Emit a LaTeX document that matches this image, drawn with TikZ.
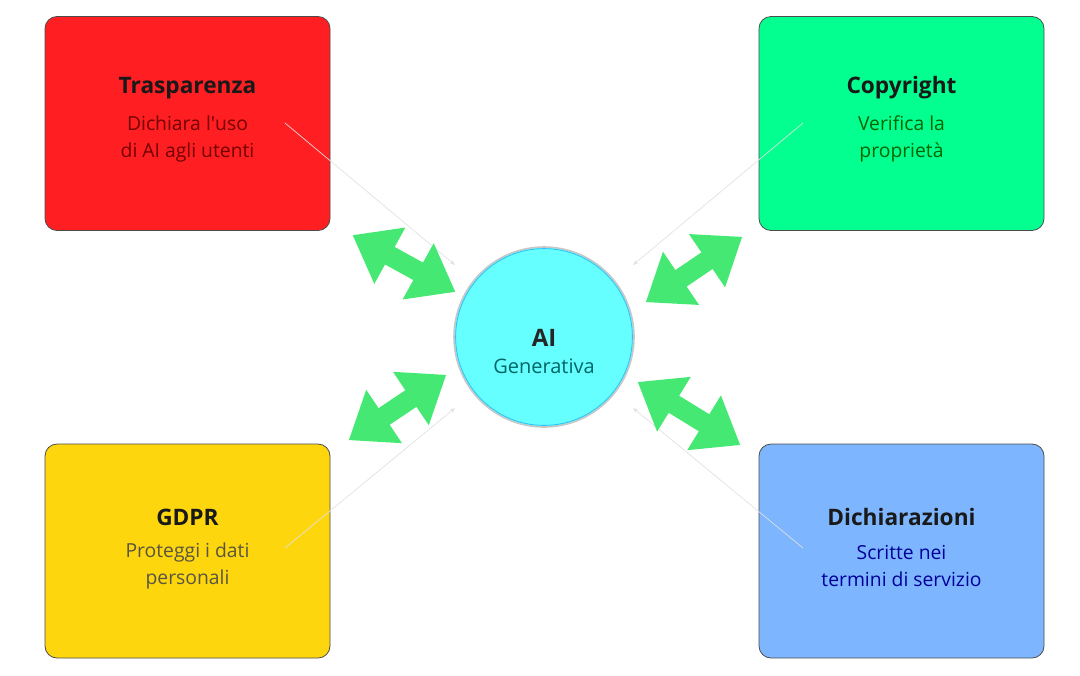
\documentclass[tikz,border=0pt]{standalone}
\usepackage{fontspec}
\setmainfont{Open Sans}
\usetikzlibrary{arrows.meta}
\definecolor{cred}{HTML}{FF1F22}
\definecolor{cgreen}{HTML}{03FF8F}
\definecolor{cyel}{HTML}{FDD60E}
\definecolor{cblue}{HTML}{7DB6FF}
\definecolor{ccyan}{HTML}{66FFFF}
\definecolor{agreen}{HTML}{44E872}
\begin{document}
\begin{tikzpicture}[x=0.75pt,y=-0.75pt,
  box/.style={draw=black!70,line width=0.6pt,rounded corners=9pt,minimum width=213.75pt,minimum height=160.5pt,inner sep=0pt},
  ttl/.style={font=\bfseries\fontsize{17}{20}\selectfont,text=black!90},
  sub/.style={font=\fontsize{14.5}{20.5}\selectfont,align=center},
  big/.style={agreen,line width=15pt,{Triangle[width=46pt,length=32pt]}-{Triangle[width=46pt,length=32pt]},shorten <=-3pt,shorten >=-3pt},
  thin/.style={black!12,line width=0.5pt,-{Stealth[length=4pt]}}]
\useasboundingbox (0,0) rectangle (1080,675);
\node[box,fill=cred] (b1) at (187.5,123.5) {};
\node[box,fill=cgreen] (b2) at (901.5,123.5) {};
\node[box,fill=cyel] (b3) at (187.5,551) {};
\node[box,fill=cblue] (b4) at (901.5,551) {};
\node[circle,draw=black!22,line width=1.2pt,fill=ccyan,minimum size=135pt,inner sep=0pt] (c) at (544,337) {};
\draw[cyan!80,line width=0.6pt] (c.center) circle (66.3pt);
\node[ttl] (t1) at (187.5,88) {Trasparenza};
\node[sub,text=red!45!black] (s1) at (187.5,139) {Dichiara l\textquotesingle uso\\di AI agli utenti};
\node[ttl] (t2) at (901.5,88) {Copyright};
\node[sub,text=green!40!black] (s2) at (901.5,139) {Verifica la\\proprietà};
\node[ttl] (t3) at (187.5,517) {GDPR};
\node[sub,text=yellow!25!black] (s3) at (187.5,566) {Proteggi i dati\\personali};
\node[ttl] (t4) at (901.5,517) {Dichiarazioni};
\node[sub,text=blue!60!black] (s4) at (901.5,566) {Scritte nei\\termini di servizio};
\node[font=\bfseries\fontsize{18}{20}\selectfont,text=black!85] (ca) at (544,338) {AI};
\node[font=\fontsize{15}{18}\selectfont,text=teal!80!black] (cb) at (544,366) {Generativa};
\coordinate (p1) at (285,123); \coordinate (q1) at (455,265);
\coordinate (p2) at (803,123); \coordinate (q2) at (633,265);
\coordinate (p3) at (285,548); \coordinate (q3) at (455,408);
\coordinate (p4) at (803,548); \coordinate (q4) at (633,408);
\draw[thin] (p1) -- (q1); \draw[thin] (p2) -- (q2);
\draw[thin] (p3) -- (q3); \draw[thin] (p4) -- (q4);
\coordinate (a1) at (356,237); \coordinate (a1b) at (452,290);
\coordinate (a2) at (739,239); \coordinate (a2b) at (649,300);
\coordinate (a3) at (352,438); \coordinate (a3b) at (443,377);
\coordinate (a4) at (641,384); \coordinate (a4b) at (737,443);
\draw[big] (a1) -- (a1b); \draw[big] (a2) -- (a2b);
\draw[big] (a3) -- (a3b); \draw[big] (a4) -- (a4b);
\end{tikzpicture}
\end{document}
